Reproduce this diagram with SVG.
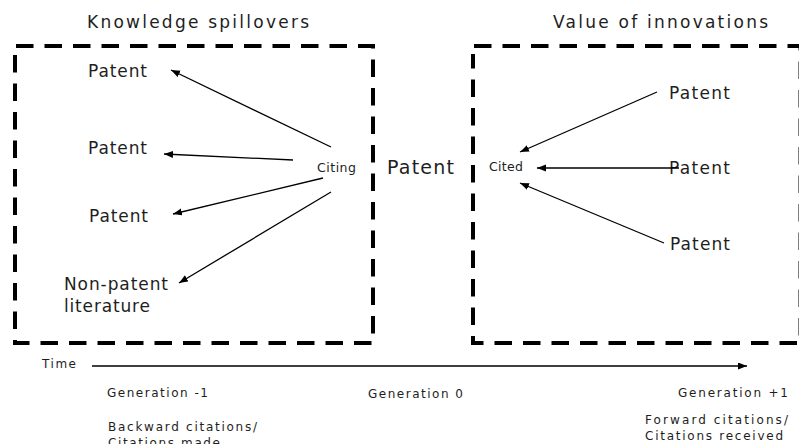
<svg xmlns="http://www.w3.org/2000/svg" width="799" height="444" viewBox="0 0 799 444">
  <style>
    text { font-family: "DejaVu Sans", Verdana, sans-serif; fill: #1e1e1e; }
    .title { font-size: 17px; }
    .node { font-size: 17px; }
    .big { font-size: 19px; }
    .small { font-size: 12.5px; }
    .axis { font-size: 12px; }
    .box { fill: none; stroke: #000; stroke-width: 4; stroke-dasharray: 17.5 11; }
    .link { fill: none; stroke: #000; stroke-width: 1.3; marker-end: url(#head); }
  </style>
  <defs>
    <marker id="head" markerUnits="userSpaceOnUse" markerWidth="10" markerHeight="8" refX="9" refY="3.5" orient="auto">
      <path d="M0,0 L9,3.5 L0,7 Z" fill="#000"/>
    </marker>
  </defs>

  <!-- dashed frames -->
  <g id="frame-spillovers">
    <path class="box" d="M16,46 H373 V343 H15 V52"/>
    <text class="title" x="87" y="28" textLength="222" lengthAdjust="spacing">Knowledge spillovers</text>
  </g>
  <g id="frame-value">
    <path class="box" d="M474,46 H800.5 V343 H473 V54"/>
    <text class="title" x="553" y="28" textLength="215" lengthAdjust="spacing">Value of innovations</text>
  </g>

  <!-- cited documents (generation -1) -->
  <g id="prior-patent-1"><text class="node" x="88" y="77" textLength="59" lengthAdjust="spacing">Patent</text></g>
  <g id="prior-patent-2"><text class="node" x="88" y="154" textLength="59" lengthAdjust="spacing">Patent</text></g>
  <g id="prior-patent-3"><text class="node" x="89" y="222" textLength="59" lengthAdjust="spacing">Patent</text></g>
  <g id="npl">
    <text class="node" x="64" y="290" textLength="104" lengthAdjust="spacing">Non-patent</text>
    <text class="node" x="64" y="312" textLength="86" lengthAdjust="spacing">literature</text>
  </g>

  <!-- focal patent (generation 0) -->
  <g id="citing"><text class="small" x="317" y="172" textLength="39" lengthAdjust="spacing">Citing</text></g>
  <g id="focal-patent"><text class="big" x="387" y="174" textLength="67" lengthAdjust="spacing">Patent</text></g>
  <g id="cited"><text class="small" x="489" y="171" textLength="34" lengthAdjust="spacing">Cited</text></g>

  <!-- citing documents (generation +1) -->
  <g id="later-patent-1"><text class="node" x="669" y="99" textLength="61" lengthAdjust="spacing">Patent</text></g>
  <g id="later-patent-2"><text class="node" x="669" y="174" textLength="61" lengthAdjust="spacing">Patent</text></g>
  <g id="later-patent-3"><text class="node" x="670" y="250" textLength="60" lengthAdjust="spacing">Patent</text></g>

  <!-- citation links -->
  <g id="connectors">
    <line class="link" x1="331" y1="147" x2="171" y2="70"/>
    <line class="link" x1="293" y1="160" x2="164" y2="154"/>
    <line class="link" x1="323" y1="178" x2="173" y2="214"/>
    <line class="link" x1="331" y1="192" x2="179" y2="283"/>
    <line class="link" x1="657" y1="92" x2="520" y2="152"/>
    <line class="link" x1="679" y1="168" x2="537" y2="168"/>
    <line class="link" x1="664" y1="243" x2="520" y2="183"/>
  </g>

  <!-- time axis -->
  <g id="time-axis">
    <text class="axis" x="42" y="368" textLength="34" lengthAdjust="spacing">Time</text>
    <line x1="92" y1="366" x2="747" y2="366" stroke="#000" stroke-width="1.3" marker-end="url(#head)"/>
    <text class="axis" x="107" y="397" textLength="101" lengthAdjust="spacing">Generation -1</text>
    <text class="axis" x="368" y="398" textLength="95" lengthAdjust="spacing">Generation 0</text>
    <text class="axis" x="678" y="397" textLength="110" lengthAdjust="spacing">Generation +1</text>
    <text class="axis" x="108" y="431" textLength="149" lengthAdjust="spacing">Backward citations/</text>
    <text class="axis" x="108" y="447" textLength="112" lengthAdjust="spacing">Citations made</text>
    <text class="axis" x="645" y="424" textLength="143" lengthAdjust="spacing">Forward citations/</text>
    <text class="axis" x="645" y="440" textLength="138" lengthAdjust="spacing">Citations received</text>
  </g>
</svg>
